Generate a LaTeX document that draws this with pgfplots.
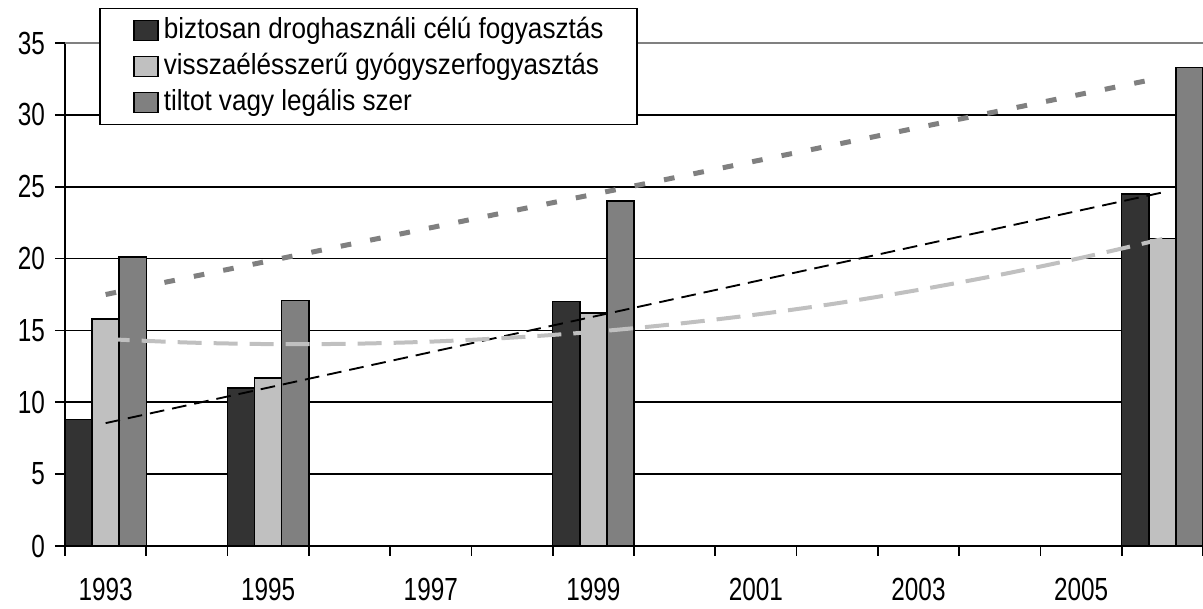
\documentclass[border=0pt]{standalone}
\usepackage{pgfplots}
\pgfplotsset{compat=1.18}
\usepackage{fontspec}
\setmainfont{Liberation Sans}
\newfontfamily\tickfont{Liberation Sans}[FakeStretch=0.76]
\newfontfamily\legfont{Liberation Sans}[FakeStretch=0.9]
\definecolor{cdark}{HTML}{333333}
\definecolor{clight}{HTML}{C0C0C0}
\definecolor{cmid}{HTML}{808080}
\begin{document}
\begin{tikzpicture}
\begin{axis}[
  at={(0pt,0pt)}, anchor=south west,
  width=853.5pt, height=377.25pt, scale only axis,
  xmin=-0.5, xmax=13.5, ymin=0, ymax=35,
  axis lines*=left,
  axis line style={black, line width=1.2pt},
  xtick={0,2,...,12},
  xticklabels={1993,1995,1997,1999,2001,2003,2005},
  minor xtick={-0.5,0.5,...,13.5},
  ytick={0,5,...,30},
  extra y ticks={35},
  extra y tick style={grid style={cmid, line width=1.6pt}},
  ymajorgrids,
  grid style={black, line width=1.2pt},
  tick align=outside,
  major tick length=7.5pt,
  minor tick length=7.5pt,
  every major x tick/.append style={draw=none},
  every tick/.append style={black, line width=1.2pt},
  /pgf/number format/assume math mode=true,
  tick label style={font=\tickfont\fontsize{24}{24}\selectfont, black},
  xticklabel style={yshift=-13pt},
  yticklabel style={xshift=-4pt},
  legend style={
    at={(0.0299,1.0696)}, anchor=north west,
    draw=black, line width=1.1pt, fill=white,
    font=\legfont\fontsize{21.75}{24}\selectfont,
    inner xsep=25pt, inner ysep=6pt,
    row sep=6pt, column sep=4pt,
    nodes={inner sep=0pt, text height=16pt, text depth=5pt},
    cells={anchor=west},
  },
  legend image code/.code={\draw[#1, line width=1.1pt] (0pt,-7.5pt) rectangle (18pt,7.5pt);},
  clip=false,
]
\addplot[ybar, bar width=20.32pt, bar shift=-20.32pt, fill=cdark, draw=black, line width=1.1pt]
  coordinates {(0,8.8) (2,11.0) (6,17.0) (13,24.5)};
\addlegendentry{biztosan droghasználi célú fogyasztás}
\addplot[ybar, bar width=20.32pt, bar shift=0pt, fill=clight, draw=black, line width=1.1pt]
  coordinates {(0,15.8) (2,11.7) (6,16.2) (13,21.4)};
\addlegendentry{visszaélésszerű gyógyszerfogyasztás}
\addplot[ybar, bar width=20.32pt, bar shift=20.32pt, fill=cmid, draw=black, line width=1.1pt]
  coordinates {(0,20.1) (2,17.1) (6,24.0) (13,33.3)};
\addlegendentry{tiltot vagy legális szer}
% trend lines
\addplot[forget plot, black, line width=1.4pt, dash pattern=on 11pt off 6pt]
  coordinates {(0,8.55) (13,24.6)};
\addplot[forget plot, clight, line width=3pt, dash pattern=on 18pt off 9pt, smooth]
  coordinates {(0,14.40) (1,14.16) (2,14.05) (3,14.07) (4,14.22) (5,14.50) (6,14.90) (7,15.44) (8,16.10) (9,16.89) (10,17.82) (11,18.87) (12,20.05) (13,21.36)};
\addplot[forget plot, cmid, line width=3.75pt, dash pattern=on 8pt off 14.5pt]
  coordinates {(0,17.5) (13,32.6)};
\end{axis}
\pgfresetboundingbox
\path[use as bounding box] (-48.75pt,-47.25pt) rectangle (853.5pt,409.5pt);
\end{tikzpicture}
\end{document}
